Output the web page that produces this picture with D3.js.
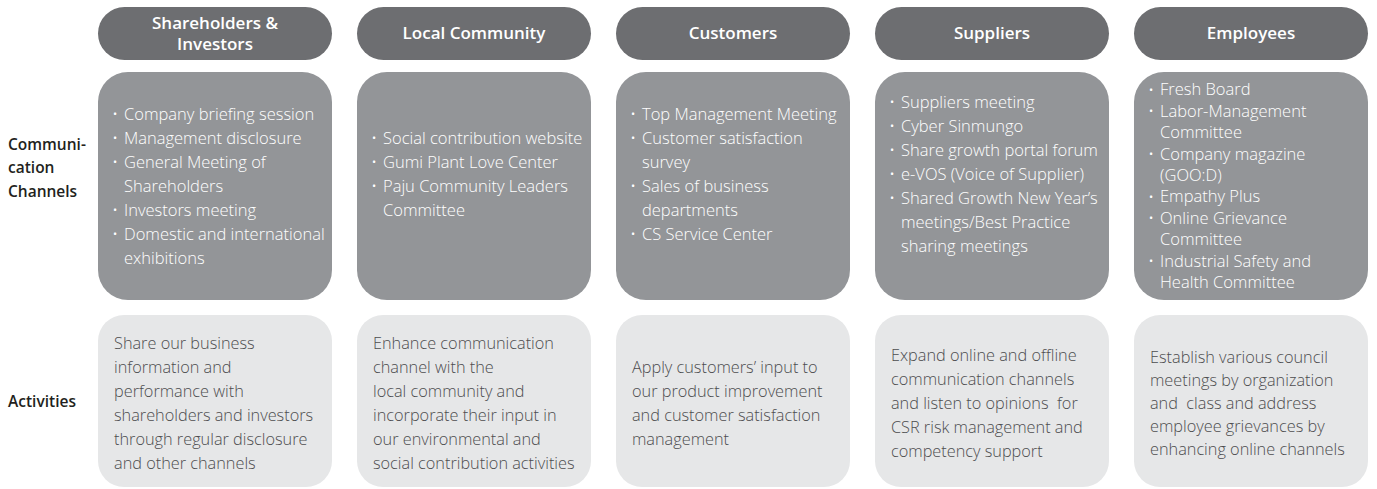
<!DOCTYPE html>
<html><head><meta charset="utf-8">
<script src="https://cdn.jsdelivr.net/npm/d3@7"></script>
<style>
html,body{margin:0;padding:0;background:#fff;}
svg{display:block;font-family:"Open Sans","Noto Sans",sans-serif;}
svg text{white-space:pre;}
</style></head>
<body><svg id="chart" width="1377" height="489"></svg>
<script>
// ---- data ----
const categories = [["Shareholders &","Investors"],["Local Community"],["Customers"],["Suppliers"],["Employees"]];
const rowLabels = [["Communi-","cation","Channels"],["Activities"]];
const channels = [
  [["Company briefing session"],["Management disclosure"],["General Meeting of","Shareholders"],["Investors meeting"],["Domestic and international","exhibitions"]],
  [["Social contribution website"],["Gumi Plant Love Center"],["Paju Community Leaders","Committee"]],
  [["Top Management Meeting"],["Customer satisfaction","survey"],["Sales of business","departments"],["CS Service Center"]],
  [["Suppliers meeting"],["Cyber Sinmungo"],["Share growth portal forum"],["e-VOS (Voice of Supplier)"],["Shared Growth New Year’s","meetings/Best Practice","sharing meetings"]],
  [["Fresh Board"],["Labor-Management","Committee"],["Company magazine","(GOO:D)"],["Empathy Plus"],["Online Grievance","Committee"],["Industrial Safety and","Health Committee"]]
];
const activities = [
  ["Share our business","information and","performance with","shareholders and investors","through regular disclosure","and other channels"],
  ["Enhance communication","channel with the","local community and","incorporate their input in","our environmental and","social contribution activities"],
  ["Apply customers’ input to","our product improvement","and customer satisfaction","management"],
  ["Expand online and offline","communication channels","and listen to opinions  for","CSR risk management and","competency support"],
  ["Establish various council","meetings by organization","and  class and address","employee grievances by","enhancing online channels"]
];

// ---- layout ----
const svg = d3.select("#chart");
const x = d3.scaleBand().domain(d3.range(categories.length)).range([98,1368]).paddingInner(0.0965).paddingOuter(0);
const rows = {head:[7,60], chan:[72,300], act:[315,487]};
const chanOffset = [0,-12,-12,-12,0];
const chanLH = [24,24,24,24,21.4];
const actLH = [24,24,24,24,23];
const C = {head:"#6d6e71", chan:"#939598", act:"#e6e7e8", actText:"#4d4d4f", label:"#231f20"};

const g = svg.append("g");
categories.forEach((lines,i)=>{
  const x0 = x(i), w = x.bandwidth(), h = rows.head[1]-rows.head[0];
  g.append("rect").attr("x",x0).attr("y",rows.head[0]).attr("width",w).attr("height",h)
    .attr("rx",h/2).attr("ry",h/2).attr("fill",C.head);
  const cy = (rows.head[0]+rows.head[1])/2;
  const lh = 21;
  lines.forEach((t,j)=>{
    g.append("text").attr("x",x0+w/2).attr("y",cy+(j-(lines.length-1)/2)*lh)
      .attr("dy","0.35em").attr("text-anchor","middle").attr("fill","#fff")
      .attr("font-size",17).attr("font-weight",600).text(t);
  });

  // channels box
  const ch = rows.chan[1]-rows.chan[0];
  g.append("rect").attr("x",x0).attr("y",rows.chan[0]).attr("width",w).attr("height",ch)
    .attr("rx",30).attr("ry",30).attr("fill",C.chan);
  const flat = [];
  channels[i].forEach(item=>item.forEach((t,k)=>flat.push({t,first:k===0})));
  const lhC = chanLH[i];
  const ccy = (rows.chan[0]+rows.chan[1])/2 + chanOffset[i];
  flat.forEach((d,j)=>{
    const yy = ccy + (j-(flat.length-1)/2)*lhC;
    if(d.first){
      g.append("text").attr("x",x0+15).attr("y",yy).attr("dy","0.35em").attr("fill","#fff")
        .attr("font-size",11).text("•");
    }
    g.append("text").attr("x",x0+26).attr("y",yy).attr("dy","0.35em").attr("fill","#fff")
      .attr("font-size",16.5).attr("font-weight",300).text(d.t);
  });

  // activities box
  const ah = rows.act[1]-rows.act[0];
  g.append("rect").attr("x",x0).attr("y",rows.act[0]).attr("width",w).attr("height",ah)
    .attr("rx",26).attr("ry",26).attr("fill",C.act);
  const acy = (rows.act[0]+rows.act[1])/2 + 2;
  activities[i].forEach((t,j)=>{
    g.append("text").attr("x",x0+16).attr("y",acy+(j-(activities[i].length-1)/2)*actLH[i])
      .attr("dy","0.35em").attr("fill",C.actText).attr("font-size",16.3).attr("font-weight",300).text(t);
  });
});

// row labels
const labelY = [168, 402];
rowLabels.forEach((lines,i)=>{
  lines.forEach((t,j)=>{
    svg.append("text").attr("x",8).attr("y",labelY[i]+(j-(lines.length-1)/2)*23.5)
      .attr("dy","0.35em").attr("fill",C.label).attr("font-size",15.5).attr("font-weight",600).text(t);
  });
});
</script></body></html>
